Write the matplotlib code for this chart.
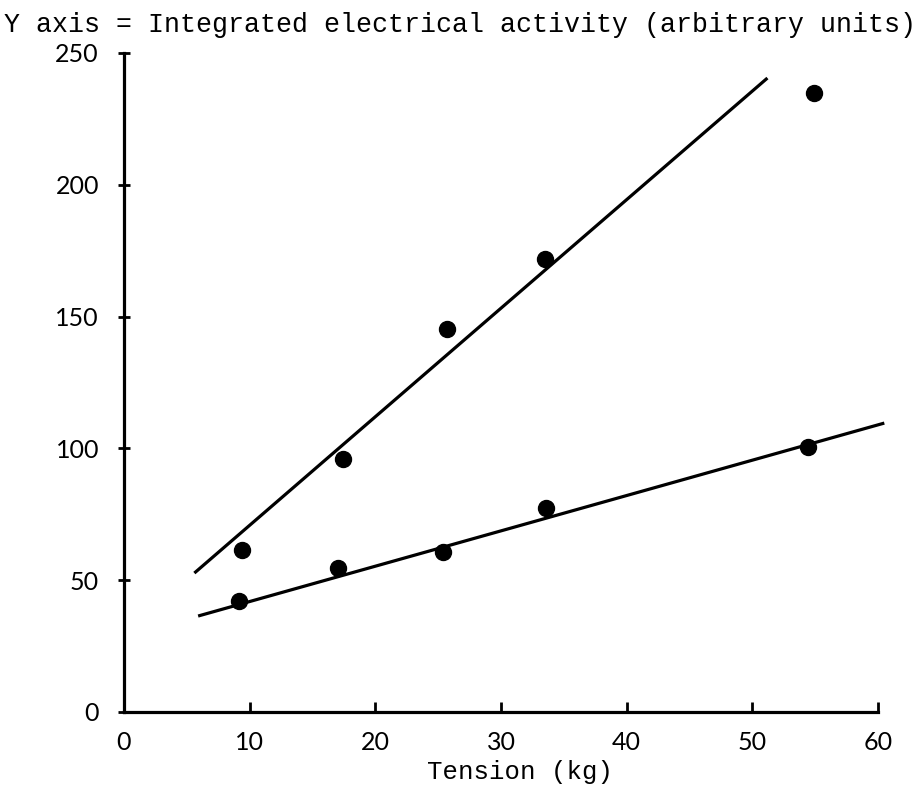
import matplotlib.pyplot as plt

# data
tension_a = [9.4, 17.4, 25.7, 33.5, 54.9]
activity_a = [61.5, 96, 145.3, 171.9, 234.8]
tension_b = [9.15, 17.0, 25.4, 33.6, 54.4]
activity_b = [42.1, 54.6, 60.7, 77.4, 100.5]

# hand-drawn fit lines (end points)
fit_a_x = [5.6, 51.2]
fit_a_y = [52.7, 240.5]
fit_b_x = [5.9, 60.5]
fit_b_y = [36.4, 109.6]

x_ticks = [0, 10, 20, 30, 40, 50, 60]
y_ticks = [0, 50, 100, 150, 200, 250]

fig = plt.figure(figsize=(9.17, 7.91), dpi=100)
ax = fig.add_axes([0.1352, 0.0999, 0.8223, 0.8331])

ax.plot(fit_a_x, fit_a_y, color='black', lw=2.3, clip_on=False, solid_capstyle='butt')
ax.plot(fit_b_x, fit_b_y, color='black', lw=2.3, clip_on=False, solid_capstyle='butt')
ax.plot(tension_a, activity_a, 'o', color='black', ms=11.5, clip_on=False)
ax.plot(tension_b, activity_b, 'o', color='black', ms=11.5, clip_on=False)

ax.set_xlim(0, 60)
ax.set_ylim(0, 250)
ax.spines['top'].set_visible(False)
ax.spines['right'].set_visible(False)
ax.spines['left'].set_linewidth(2.3)
ax.spines['bottom'].set_linewidth(2.3)

ax.set_xticks(x_ticks)
ax.set_yticks(y_ticks)
ax.tick_params(axis='x', direction='in', length=7, width=2, pad=14)
ax.tick_params(axis='y', direction='inout', length=8, width=2, pad=14)
for lab in ax.get_xticklabels() + ax.get_yticklabels():
    lab.set_fontfamily('Lato')
    lab.set_fontsize(18)

fig.text(0.004, 0.985, "Y axis = Integrated electrical activity (arbitrary units)",
         family='Liberation Mono', fontsize=19.2, ha='left', va='top')
fig.text(0.567, 0.024, "Tension (kg)", family='Liberation Mono', fontsize=18.5,
         ha='center', va='center')

fig.savefig("out.png", dpi=100)
